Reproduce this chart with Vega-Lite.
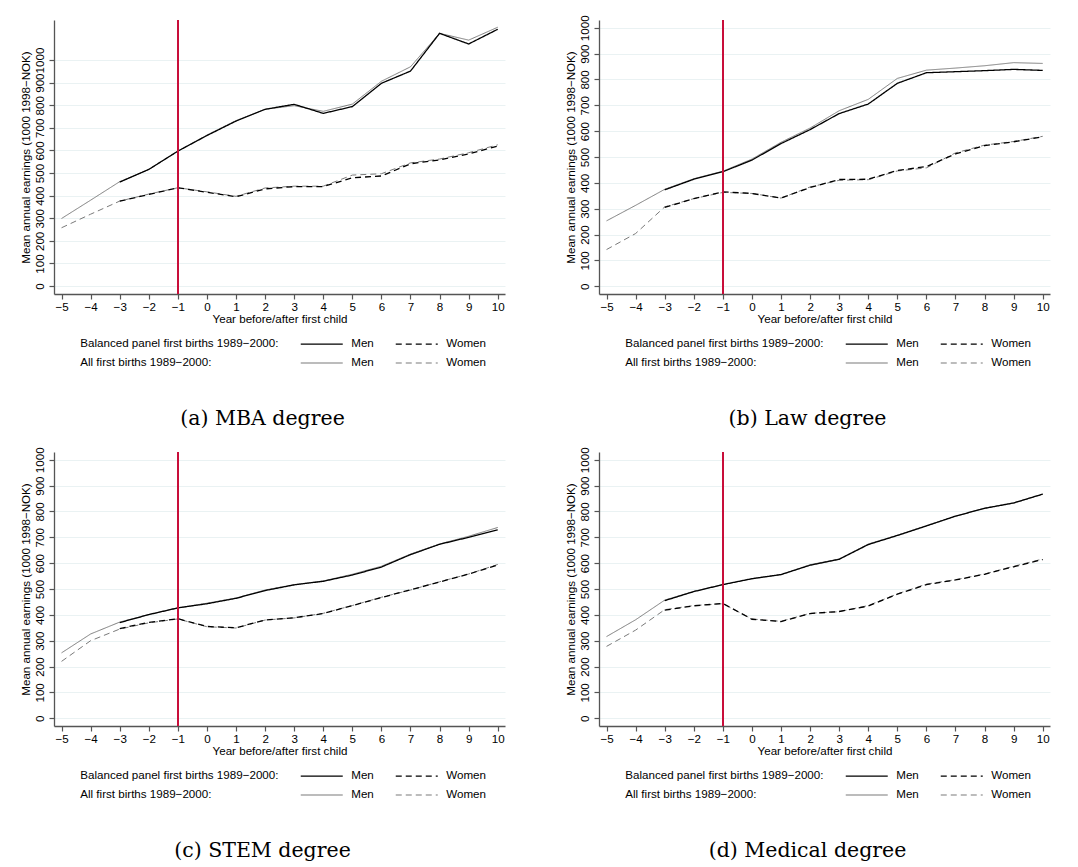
{
  "$schema": "https://vega.github.io/schema/vega-lite/v6.json",
  "padding": {"left": 19, "top": 14, "right": 5, "bottom": 5},
  "background": "white",
  "config": {
    "font": "Liberation Sans",
    "view": {"stroke": null},
    "axis": {"labelColor": "#000", "titleColor": "#000", "labelFontSize": 11.6, "titleFontSize": 11.6, "titleFontWeight": "normal", "domainColor": "#555", "tickColor": "#555", "domainWidth": 1.3, "tickWidth": 1.2, "tickSize": 5, "gridColor": "#eaf2f3", "gridWidth": 1, "labelOverlap": false, "labelFlush": false},
    "legend": {"labelFontSize": 11.6, "labelColor": "#000"},
    "title": {"font": "DejaVu Serif", "fontSize": 20.5, "fontWeight": "normal", "color": "#000", "orient": "bottom", "anchor": "middle", "frame": "bounds", "offset": 40}
  },
  "datasets": {
    "earn": [
      {"panel":"MBA","series":"All Men","year":-5,"value":299},
      {"panel":"MBA","series":"All Men","year":-4,"value":380},
      {"panel":"MBA","series":"All Men","year":-3,"value":462},
      {"panel":"MBA","series":"All Men","year":-2,"value":516},
      {"panel":"MBA","series":"All Men","year":-1,"value":597},
      {"panel":"MBA","series":"All Men","year":0,"value":668},
      {"panel":"MBA","series":"All Men","year":1,"value":732},
      {"panel":"MBA","series":"All Men","year":2,"value":782},
      {"panel":"MBA","series":"All Men","year":3,"value":798},
      {"panel":"MBA","series":"All Men","year":4,"value":773},
      {"panel":"MBA","series":"All Men","year":5,"value":805},
      {"panel":"MBA","series":"All Men","year":6,"value":906},
      {"panel":"MBA","series":"All Men","year":7,"value":970},
      {"panel":"MBA","series":"All Men","year":8,"value":1118},
      {"panel":"MBA","series":"All Men","year":9,"value":1088},
      {"panel":"MBA","series":"All Men","year":10,"value":1145},
      {"panel":"MBA","series":"Balanced Men","year":-3,"value":460},
      {"panel":"MBA","series":"Balanced Men","year":-2,"value":516},
      {"panel":"MBA","series":"Balanced Men","year":-1,"value":597},
      {"panel":"MBA","series":"Balanced Men","year":0,"value":666},
      {"panel":"MBA","series":"Balanced Men","year":1,"value":730},
      {"panel":"MBA","series":"Balanced Men","year":2,"value":782},
      {"panel":"MBA","series":"Balanced Men","year":3,"value":804},
      {"panel":"MBA","series":"Balanced Men","year":4,"value":764},
      {"panel":"MBA","series":"Balanced Men","year":5,"value":794},
      {"panel":"MBA","series":"Balanced Men","year":6,"value":897},
      {"panel":"MBA","series":"Balanced Men","year":7,"value":951},
      {"panel":"MBA","series":"Balanced Men","year":8,"value":1118},
      {"panel":"MBA","series":"Balanced Men","year":9,"value":1071},
      {"panel":"MBA","series":"Balanced Men","year":10,"value":1136},
      {"panel":"MBA","series":"All Women","year":-5,"value":258},
      {"panel":"MBA","series":"All Women","year":-4,"value":318},
      {"panel":"MBA","series":"All Women","year":-3,"value":376},
      {"panel":"MBA","series":"All Women","year":-2,"value":407},
      {"panel":"MBA","series":"All Women","year":-1,"value":435},
      {"panel":"MBA","series":"All Women","year":0,"value":417},
      {"panel":"MBA","series":"All Women","year":1,"value":397},
      {"panel":"MBA","series":"All Women","year":2,"value":434},
      {"panel":"MBA","series":"All Women","year":3,"value":442},
      {"panel":"MBA","series":"All Women","year":4,"value":442},
      {"panel":"MBA","series":"All Women","year":5,"value":491},
      {"panel":"MBA","series":"All Women","year":6,"value":497},
      {"panel":"MBA","series":"All Women","year":7,"value":545},
      {"panel":"MBA","series":"All Women","year":8,"value":562},
      {"panel":"MBA","series":"All Women","year":9,"value":590},
      {"panel":"MBA","series":"All Women","year":10,"value":625},
      {"panel":"MBA","series":"Balanced Women","year":-3,"value":376},
      {"panel":"MBA","series":"Balanced Women","year":-2,"value":405},
      {"panel":"MBA","series":"Balanced Women","year":-1,"value":435},
      {"panel":"MBA","series":"Balanced Women","year":0,"value":415},
      {"panel":"MBA","series":"Balanced Women","year":1,"value":395},
      {"panel":"MBA","series":"Balanced Women","year":2,"value":430},
      {"panel":"MBA","series":"Balanced Women","year":3,"value":440},
      {"panel":"MBA","series":"Balanced Women","year":4,"value":440},
      {"panel":"MBA","series":"Balanced Women","year":5,"value":479},
      {"panel":"MBA","series":"Balanced Women","year":6,"value":487},
      {"panel":"MBA","series":"Balanced Women","year":7,"value":541},
      {"panel":"MBA","series":"Balanced Women","year":8,"value":558},
      {"panel":"MBA","series":"Balanced Women","year":9,"value":585},
      {"panel":"MBA","series":"Balanced Women","year":10,"value":619},

      {"panel":"Law","series":"All Men","year":-5,"value":253},
      {"panel":"Law","series":"All Men","year":-4,"value":313},
      {"panel":"Law","series":"All Men","year":-3,"value":375},
      {"panel":"Law","series":"All Men","year":-2,"value":416},
      {"panel":"Law","series":"All Men","year":-1,"value":445},
      {"panel":"Law","series":"All Men","year":0,"value":492},
      {"panel":"Law","series":"All Men","year":1,"value":557},
      {"panel":"Law","series":"All Men","year":2,"value":612},
      {"panel":"Law","series":"All Men","year":3,"value":679},
      {"panel":"Law","series":"All Men","year":4,"value":723},
      {"panel":"Law","series":"All Men","year":5,"value":804},
      {"panel":"Law","series":"All Men","year":6,"value":836},
      {"panel":"Law","series":"All Men","year":7,"value":844},
      {"panel":"Law","series":"All Men","year":8,"value":853},
      {"panel":"Law","series":"All Men","year":9,"value":865},
      {"panel":"Law","series":"All Men","year":10,"value":862},
      {"panel":"Law","series":"Balanced Men","year":-3,"value":373},
      {"panel":"Law","series":"Balanced Men","year":-2,"value":414},
      {"panel":"Law","series":"Balanced Men","year":-1,"value":443},
      {"panel":"Law","series":"Balanced Men","year":0,"value":488},
      {"panel":"Law","series":"Balanced Men","year":1,"value":552},
      {"panel":"Law","series":"Balanced Men","year":2,"value":606},
      {"panel":"Law","series":"Balanced Men","year":3,"value":668},
      {"panel":"Law","series":"Balanced Men","year":4,"value":705},
      {"panel":"Law","series":"Balanced Men","year":5,"value":785},
      {"panel":"Law","series":"Balanced Men","year":6,"value":826},
      {"panel":"Law","series":"Balanced Men","year":7,"value":830},
      {"panel":"Law","series":"Balanced Men","year":8,"value":834},
      {"panel":"Law","series":"Balanced Men","year":9,"value":839},
      {"panel":"Law","series":"Balanced Men","year":10,"value":835},
      {"panel":"Law","series":"All Women","year":-5,"value":142},
      {"panel":"Law","series":"All Women","year":-4,"value":204},
      {"panel":"Law","series":"All Women","year":-3,"value":307},
      {"panel":"Law","series":"All Women","year":-2,"value":339},
      {"panel":"Law","series":"All Women","year":-1,"value":363},
      {"panel":"Law","series":"All Women","year":0,"value":359},
      {"panel":"Law","series":"All Women","year":1,"value":341},
      {"panel":"Law","series":"All Women","year":2,"value":384},
      {"panel":"Law","series":"All Women","year":3,"value":410},
      {"panel":"Law","series":"All Women","year":4,"value":412},
      {"panel":"Law","series":"All Women","year":5,"value":446},
      {"panel":"Law","series":"All Women","year":6,"value":458},
      {"panel":"Law","series":"All Women","year":7,"value":516},
      {"panel":"Law","series":"All Women","year":8,"value":546},
      {"panel":"Law","series":"All Women","year":9,"value":560},
      {"panel":"Law","series":"All Women","year":10,"value":580},
      {"panel":"Law","series":"Balanced Women","year":-3,"value":305},
      {"panel":"Law","series":"Balanced Women","year":-2,"value":339},
      {"panel":"Law","series":"Balanced Women","year":-1,"value":365},
      {"panel":"Law","series":"Balanced Women","year":0,"value":359},
      {"panel":"Law","series":"Balanced Women","year":1,"value":341},
      {"panel":"Law","series":"Balanced Women","year":2,"value":382},
      {"panel":"Law","series":"Balanced Women","year":3,"value":413},
      {"panel":"Law","series":"Balanced Women","year":4,"value":414},
      {"panel":"Law","series":"Balanced Women","year":5,"value":448},
      {"panel":"Law","series":"Balanced Women","year":6,"value":463},
      {"panel":"Law","series":"Balanced Women","year":7,"value":512},
      {"panel":"Law","series":"Balanced Women","year":8,"value":544},
      {"panel":"Law","series":"Balanced Women","year":9,"value":559},
      {"panel":"Law","series":"Balanced Women","year":10,"value":578},

      {"panel":"STEM","series":"All Men","year":-5,"value":253},
      {"panel":"STEM","series":"All Men","year":-4,"value":326},
      {"panel":"STEM","series":"All Men","year":-3,"value":372},
      {"panel":"STEM","series":"All Men","year":-2,"value":401},
      {"panel":"STEM","series":"All Men","year":-1,"value":427},
      {"panel":"STEM","series":"All Men","year":0,"value":445},
      {"panel":"STEM","series":"All Men","year":1,"value":465},
      {"panel":"STEM","series":"All Men","year":2,"value":496},
      {"panel":"STEM","series":"All Men","year":3,"value":517},
      {"panel":"STEM","series":"All Men","year":4,"value":531},
      {"panel":"STEM","series":"All Men","year":5,"value":557},
      {"panel":"STEM","series":"All Men","year":6,"value":588},
      {"panel":"STEM","series":"All Men","year":7,"value":635},
      {"panel":"STEM","series":"All Men","year":8,"value":674},
      {"panel":"STEM","series":"All Men","year":9,"value":704},
      {"panel":"STEM","series":"All Men","year":10,"value":738},
      {"panel":"STEM","series":"Balanced Men","year":-3,"value":370},
      {"panel":"STEM","series":"Balanced Men","year":-2,"value":401},
      {"panel":"STEM","series":"Balanced Men","year":-1,"value":427},
      {"panel":"STEM","series":"Balanced Men","year":0,"value":443},
      {"panel":"STEM","series":"Balanced Men","year":1,"value":464},
      {"panel":"STEM","series":"Balanced Men","year":2,"value":494},
      {"panel":"STEM","series":"Balanced Men","year":3,"value":516},
      {"panel":"STEM","series":"Balanced Men","year":4,"value":530},
      {"panel":"STEM","series":"Balanced Men","year":5,"value":554},
      {"panel":"STEM","series":"Balanced Men","year":6,"value":585},
      {"panel":"STEM","series":"Balanced Men","year":7,"value":633},
      {"panel":"STEM","series":"Balanced Men","year":8,"value":673},
      {"panel":"STEM","series":"Balanced Men","year":9,"value":700},
      {"panel":"STEM","series":"Balanced Men","year":10,"value":729},
      {"panel":"STEM","series":"All Women","year":-5,"value":220},
      {"panel":"STEM","series":"All Women","year":-4,"value":300},
      {"panel":"STEM","series":"All Women","year":-3,"value":345},
      {"panel":"STEM","series":"All Women","year":-2,"value":369},
      {"panel":"STEM","series":"All Women","year":-1,"value":384},
      {"panel":"STEM","series":"All Women","year":0,"value":354},
      {"panel":"STEM","series":"All Women","year":1,"value":349},
      {"panel":"STEM","series":"All Women","year":2,"value":380},
      {"panel":"STEM","series":"All Women","year":3,"value":388},
      {"panel":"STEM","series":"All Women","year":4,"value":406},
      {"panel":"STEM","series":"All Women","year":5,"value":436},
      {"panel":"STEM","series":"All Women","year":6,"value":468},
      {"panel":"STEM","series":"All Women","year":7,"value":496},
      {"panel":"STEM","series":"All Women","year":8,"value":528},
      {"panel":"STEM","series":"All Women","year":9,"value":558},
      {"panel":"STEM","series":"All Women","year":10,"value":595},
      {"panel":"STEM","series":"Balanced Women","year":-3,"value":347},
      {"panel":"STEM","series":"Balanced Women","year":-2,"value":371},
      {"panel":"STEM","series":"Balanced Women","year":-1,"value":385},
      {"panel":"STEM","series":"Balanced Women","year":0,"value":355},
      {"panel":"STEM","series":"Balanced Women","year":1,"value":350},
      {"panel":"STEM","series":"Balanced Women","year":2,"value":380},
      {"panel":"STEM","series":"Balanced Women","year":3,"value":389},
      {"panel":"STEM","series":"Balanced Women","year":4,"value":405},
      {"panel":"STEM","series":"Balanced Women","year":5,"value":436},
      {"panel":"STEM","series":"Balanced Women","year":6,"value":467},
      {"panel":"STEM","series":"Balanced Women","year":7,"value":497},
      {"panel":"STEM","series":"Balanced Women","year":8,"value":527},
      {"panel":"STEM","series":"Balanced Women","year":9,"value":558},
      {"panel":"STEM","series":"Balanced Women","year":10,"value":593},

      {"panel":"Medical","series":"All Men","year":-5,"value":316},
      {"panel":"Medical","series":"All Men","year":-4,"value":381},
      {"panel":"Medical","series":"All Men","year":-3,"value":457},
      {"panel":"Medical","series":"All Men","year":-2,"value":491},
      {"panel":"Medical","series":"All Men","year":-1,"value":517},
      {"panel":"Medical","series":"All Men","year":0,"value":539},
      {"panel":"Medical","series":"All Men","year":1,"value":555},
      {"panel":"Medical","series":"All Men","year":2,"value":594},
      {"panel":"Medical","series":"All Men","year":3,"value":616},
      {"panel":"Medical","series":"All Men","year":4,"value":674},
      {"panel":"Medical","series":"All Men","year":5,"value":708},
      {"panel":"Medical","series":"All Men","year":6,"value":745},
      {"panel":"Medical","series":"All Men","year":7,"value":781},
      {"panel":"Medical","series":"All Men","year":8,"value":813},
      {"panel":"Medical","series":"All Men","year":9,"value":832},
      {"panel":"Medical","series":"All Men","year":10,"value":867},
      {"panel":"Medical","series":"Balanced Men","year":-3,"value":455},
      {"panel":"Medical","series":"Balanced Men","year":-2,"value":490},
      {"panel":"Medical","series":"Balanced Men","year":-1,"value":517},
      {"panel":"Medical","series":"Balanced Men","year":0,"value":540},
      {"panel":"Medical","series":"Balanced Men","year":1,"value":556},
      {"panel":"Medical","series":"Balanced Men","year":2,"value":592},
      {"panel":"Medical","series":"Balanced Men","year":3,"value":615},
      {"panel":"Medical","series":"Balanced Men","year":4,"value":672},
      {"panel":"Medical","series":"Balanced Men","year":5,"value":707},
      {"panel":"Medical","series":"Balanced Men","year":6,"value":744},
      {"panel":"Medical","series":"Balanced Men","year":7,"value":782},
      {"panel":"Medical","series":"Balanced Men","year":8,"value":812},
      {"panel":"Medical","series":"Balanced Men","year":9,"value":833},
      {"panel":"Medical","series":"Balanced Men","year":10,"value":867},
      {"panel":"Medical","series":"All Women","year":-5,"value":278},
      {"panel":"Medical","series":"All Women","year":-4,"value":341},
      {"panel":"Medical","series":"All Women","year":-3,"value":420},
      {"panel":"Medical","series":"All Women","year":-2,"value":436},
      {"panel":"Medical","series":"All Women","year":-1,"value":443},
      {"panel":"Medical","series":"All Women","year":0,"value":384},
      {"panel":"Medical","series":"All Women","year":1,"value":375},
      {"panel":"Medical","series":"All Women","year":2,"value":406},
      {"panel":"Medical","series":"All Women","year":3,"value":412},
      {"panel":"Medical","series":"All Women","year":4,"value":436},
      {"panel":"Medical","series":"All Women","year":5,"value":481},
      {"panel":"Medical","series":"All Women","year":6,"value":519},
      {"panel":"Medical","series":"All Women","year":7,"value":536},
      {"panel":"Medical","series":"All Women","year":8,"value":558},
      {"panel":"Medical","series":"All Women","year":9,"value":588},
      {"panel":"Medical","series":"All Women","year":10,"value":616},
      {"panel":"Medical","series":"Balanced Women","year":-3,"value":418},
      {"panel":"Medical","series":"Balanced Women","year":-2,"value":435},
      {"panel":"Medical","series":"Balanced Women","year":-1,"value":444},
      {"panel":"Medical","series":"Balanced Women","year":0,"value":383},
      {"panel":"Medical","series":"Balanced Women","year":1,"value":374},
      {"panel":"Medical","series":"Balanced Women","year":2,"value":405},
      {"panel":"Medical","series":"Balanced Women","year":3,"value":413},
      {"panel":"Medical","series":"Balanced Women","year":4,"value":434},
      {"panel":"Medical","series":"Balanced Women","year":5,"value":480},
      {"panel":"Medical","series":"Balanced Women","year":6,"value":517},
      {"panel":"Medical","series":"Balanced Women","year":7,"value":535},
      {"panel":"Medical","series":"Balanced Women","year":8,"value":557},
      {"panel":"Medical","series":"Balanced Women","year":9,"value":586},
      {"panel":"Medical","series":"Balanced Women","year":10,"value":614}
    ]
  },
  "columns": 2,
  "bounds": "flush",
  "spacing": {"row": 158, "column": 94},
  "resolve": {"scale": {"color": "independent", "strokeDash": "independent"}, "legend": {"color": "independent", "strokeDash": "independent"}},
  "concat": [
    {
      "title": {"text": "(a) MBA degree"},
      "width": 451, "height": 274,
      "data": {"name": "earn"},
      "transform": [{"filter": "datum.panel === 'MBA'"}],
      "layer": [
        {"transform": [{"filter": "indexof(datum.series, 'All') === 0"}],
         "mark": {"type": "line", "strokeWidth": 1},
         "encoding": {
           "x": {"field": "year", "type": "quantitative", "scale": {"domain": [-5.26, 10.25], "nice": false, "zero": false}, "axis": {"values": [-5,-4,-3,-2,-1,0,1,2,3,4,5,6,7,8,9,10], "format": "d", "grid": false, "title": "Year before/after first child", "labelPadding": 2, "titlePadding": 1}},
           "y": {"field": "value", "type": "quantitative", "scale": {"domain": [-35, 1177], "nice": false, "zero": false}, "axis": {"values": [0,100,200,300,400,500,600,700,800,900,1000], "format": "d", "labelAngle": -90, "labelAlign": "center", "labelBaseline": "bottom", "labelPadding": 4, "title": "Mean annual earnings (1000 1998\u2212NOK)", "titlePadding": 3}},
           "color": {"field": "series", "type": "nominal", "scale": {"domain": ["Balanced panel first births 1989\u22122000:", "Balanced Men", "Balanced Women", "All first births 1989\u22122000:", "All Men", "All Women"], "range": ["rgba(0,0,0,0)", "#000000", "#000000", "rgba(0,0,0,0)", "#7a7a7a", "#7a7a7a"]}, "legend": {"title": null, "orient": "none", "legendX": -25, "legendY": 318, "direction": "horizontal", "columns": 3, "gridAlign": "each", "symbolType": "M0,0H8", "symbolSize": 110.25, "symbolOffset": -5.25, "symbolStrokeWidth": 1.2, "labelOffset": 44.5, "columnPadding": 19, "rowPadding": 7, "labelLimit": 400, "labelExpr": "length(datum.label) > 20 ? datum.label : (indexof(datum.label, 'Women') >= 0 ? 'Women' : 'Men')"}},
           "strokeDash": {"field": "series", "type": "nominal", "scale": {"domain": ["Balanced panel first births 1989\u22122000:", "Balanced Men", "Balanced Women", "All first births 1989\u22122000:", "All Men", "All Women"], "range": [[1,0],[1,0],[6,4],[1,0],[1,0],[6,4]]}, "legend": {"title": null, "orient": "none", "legendX": -25, "legendY": 318, "direction": "horizontal", "columns": 3, "gridAlign": "each", "symbolType": "M0,0H8", "symbolSize": 110.25, "symbolOffset": -5.25, "symbolStrokeWidth": 1.2, "labelOffset": 44.5, "columnPadding": 19, "rowPadding": 7, "labelLimit": 400, "labelExpr": "length(datum.label) > 20 ? datum.label : (indexof(datum.label, 'Women') >= 0 ? 'Women' : 'Men')"}}
         }},
        {"transform": [{"filter": "indexof(datum.series, 'Balanced') === 0"}],
         "mark": {"type": "line", "strokeWidth": 1.3},
         "encoding": {
           "x": {"field": "year", "type": "quantitative", "scale": {"domain": [-5.26, 10.25], "nice": false, "zero": false}, "axis": {"values": [-5,-4,-3,-2,-1,0,1,2,3,4,5,6,7,8,9,10], "format": "d", "grid": false, "title": "Year before/after first child", "labelPadding": 2, "titlePadding": 1}},
           "y": {"field": "value", "type": "quantitative", "scale": {"domain": [-35, 1177], "nice": false, "zero": false}, "axis": {"values": [0,100,200,300,400,500,600,700,800,900,1000], "format": "d", "labelAngle": -90, "labelAlign": "center", "labelBaseline": "bottom", "labelPadding": 4, "title": "Mean annual earnings (1000 1998\u2212NOK)", "titlePadding": 3}},
           "color": {"field": "series", "type": "nominal"},
           "strokeDash": {"field": "series", "type": "nominal"}
         }},
        {"mark": {"type": "rule", "color": "#c8103a", "strokeWidth": 1},
         "encoding": {"x": {"datum": -1, "type": "quantitative", "scale": {"domain": [-5.26, 10.25], "nice": false, "zero": false}, "axis": {"values": [-5,-4,-3,-2,-1,0,1,2,3,4,5,6,7,8,9,10], "format": "d", "grid": false, "title": "Year before/after first child", "labelPadding": 2, "titlePadding": 1}}}}
      ]
    },
    {
      "title": {"text": "(b) Law degree"},
      "width": 451, "height": 274,
      "data": {"name": "earn"},
      "transform": [{"filter": "datum.panel === 'Law'"}],
      "layer": [
        {"transform": [{"filter": "indexof(datum.series, 'All') === 0"}],
         "mark": {"type": "line", "strokeWidth": 1},
         "encoding": {
           "x": {"field": "year", "type": "quantitative", "scale": {"domain": [-5.26, 10.25], "nice": false, "zero": false}, "axis": {"values": [-5,-4,-3,-2,-1,0,1,2,3,4,5,6,7,8,9,10], "format": "d", "grid": false, "title": "Year before/after first child", "labelPadding": 2, "titlePadding": 1}},
           "y": {"field": "value", "type": "quantitative", "scale": {"domain": [-30, 1030], "nice": false, "zero": false}, "axis": {"values": [0,100,200,300,400,500,600,700,800,900,1000], "format": "d", "labelAngle": -90, "labelAlign": "center", "labelBaseline": "bottom", "labelPadding": 4, "title": "Mean annual earnings (1000 1998\u2212NOK)", "titlePadding": 3}},
           "color": {"field": "series", "type": "nominal", "scale": {"domain": ["Balanced panel first births 1989\u22122000:", "Balanced Men", "Balanced Women", "All first births 1989\u22122000:", "All Men", "All Women"], "range": ["rgba(0,0,0,0)", "#000000", "#000000", "rgba(0,0,0,0)", "#7a7a7a", "#7a7a7a"]}, "legend": {"title": null, "orient": "none", "legendX": -25, "legendY": 318, "direction": "horizontal", "columns": 3, "gridAlign": "each", "symbolType": "M0,0H8", "symbolSize": 110.25, "symbolOffset": -5.25, "symbolStrokeWidth": 1.2, "labelOffset": 44.5, "columnPadding": 19, "rowPadding": 7, "labelLimit": 400, "labelExpr": "length(datum.label) > 20 ? datum.label : (indexof(datum.label, 'Women') >= 0 ? 'Women' : 'Men')"}},
           "strokeDash": {"field": "series", "type": "nominal", "scale": {"domain": ["Balanced panel first births 1989\u22122000:", "Balanced Men", "Balanced Women", "All first births 1989\u22122000:", "All Men", "All Women"], "range": [[1,0],[1,0],[6,4],[1,0],[1,0],[6,4]]}, "legend": {"title": null, "orient": "none", "legendX": -25, "legendY": 318, "direction": "horizontal", "columns": 3, "gridAlign": "each", "symbolType": "M0,0H8", "symbolSize": 110.25, "symbolOffset": -5.25, "symbolStrokeWidth": 1.2, "labelOffset": 44.5, "columnPadding": 19, "rowPadding": 7, "labelLimit": 400, "labelExpr": "length(datum.label) > 20 ? datum.label : (indexof(datum.label, 'Women') >= 0 ? 'Women' : 'Men')"}}
         }},
        {"transform": [{"filter": "indexof(datum.series, 'Balanced') === 0"}],
         "mark": {"type": "line", "strokeWidth": 1.3},
         "encoding": {
           "x": {"field": "year", "type": "quantitative", "scale": {"domain": [-5.26, 10.25], "nice": false, "zero": false}, "axis": {"values": [-5,-4,-3,-2,-1,0,1,2,3,4,5,6,7,8,9,10], "format": "d", "grid": false, "title": "Year before/after first child", "labelPadding": 2, "titlePadding": 1}},
           "y": {"field": "value", "type": "quantitative", "scale": {"domain": [-30, 1030], "nice": false, "zero": false}, "axis": {"values": [0,100,200,300,400,500,600,700,800,900,1000], "format": "d", "labelAngle": -90, "labelAlign": "center", "labelBaseline": "bottom", "labelPadding": 4, "title": "Mean annual earnings (1000 1998\u2212NOK)", "titlePadding": 3}},
           "color": {"field": "series", "type": "nominal"},
           "strokeDash": {"field": "series", "type": "nominal"}
         }},
        {"mark": {"type": "rule", "color": "#c8103a", "strokeWidth": 1},
         "encoding": {"x": {"datum": -1, "type": "quantitative", "scale": {"domain": [-5.26, 10.25], "nice": false, "zero": false}, "axis": {"values": [-5,-4,-3,-2,-1,0,1,2,3,4,5,6,7,8,9,10], "format": "d", "grid": false, "title": "Year before/after first child", "labelPadding": 2, "titlePadding": 1}}}}
      ]
    },
    {
      "title": {"text": "(c) STEM degree"},
      "width": 451, "height": 274,
      "data": {"name": "earn"},
      "transform": [{"filter": "datum.panel === 'STEM'"}],
      "layer": [
        {"transform": [{"filter": "indexof(datum.series, 'All') === 0"}],
         "mark": {"type": "line", "strokeWidth": 1},
         "encoding": {
           "x": {"field": "year", "type": "quantitative", "scale": {"domain": [-5.26, 10.25], "nice": false, "zero": false}, "axis": {"values": [-5,-4,-3,-2,-1,0,1,2,3,4,5,6,7,8,9,10], "format": "d", "grid": false, "title": "Year before/after first child", "labelPadding": 2, "titlePadding": 1}},
           "y": {"field": "value", "type": "quantitative", "scale": {"domain": [-30, 1030], "nice": false, "zero": false}, "axis": {"values": [0,100,200,300,400,500,600,700,800,900,1000], "format": "d", "labelAngle": -90, "labelAlign": "center", "labelBaseline": "bottom", "labelPadding": 4, "title": "Mean annual earnings (1000 1998\u2212NOK)", "titlePadding": 3}},
           "color": {"field": "series", "type": "nominal", "scale": {"domain": ["Balanced panel first births 1989\u22122000:", "Balanced Men", "Balanced Women", "All first births 1989\u22122000:", "All Men", "All Women"], "range": ["rgba(0,0,0,0)", "#000000", "#000000", "rgba(0,0,0,0)", "#7a7a7a", "#7a7a7a"]}, "legend": {"title": null, "orient": "none", "legendX": -25, "legendY": 318, "direction": "horizontal", "columns": 3, "gridAlign": "each", "symbolType": "M0,0H8", "symbolSize": 110.25, "symbolOffset": -5.25, "symbolStrokeWidth": 1.2, "labelOffset": 44.5, "columnPadding": 19, "rowPadding": 7, "labelLimit": 400, "labelExpr": "length(datum.label) > 20 ? datum.label : (indexof(datum.label, 'Women') >= 0 ? 'Women' : 'Men')"}},
           "strokeDash": {"field": "series", "type": "nominal", "scale": {"domain": ["Balanced panel first births 1989\u22122000:", "Balanced Men", "Balanced Women", "All first births 1989\u22122000:", "All Men", "All Women"], "range": [[1,0],[1,0],[6,4],[1,0],[1,0],[6,4]]}, "legend": {"title": null, "orient": "none", "legendX": -25, "legendY": 318, "direction": "horizontal", "columns": 3, "gridAlign": "each", "symbolType": "M0,0H8", "symbolSize": 110.25, "symbolOffset": -5.25, "symbolStrokeWidth": 1.2, "labelOffset": 44.5, "columnPadding": 19, "rowPadding": 7, "labelLimit": 400, "labelExpr": "length(datum.label) > 20 ? datum.label : (indexof(datum.label, 'Women') >= 0 ? 'Women' : 'Men')"}}
         }},
        {"transform": [{"filter": "indexof(datum.series, 'Balanced') === 0"}],
         "mark": {"type": "line", "strokeWidth": 1.3},
         "encoding": {
           "x": {"field": "year", "type": "quantitative", "scale": {"domain": [-5.26, 10.25], "nice": false, "zero": false}, "axis": {"values": [-5,-4,-3,-2,-1,0,1,2,3,4,5,6,7,8,9,10], "format": "d", "grid": false, "title": "Year before/after first child", "labelPadding": 2, "titlePadding": 1}},
           "y": {"field": "value", "type": "quantitative", "scale": {"domain": [-30, 1030], "nice": false, "zero": false}, "axis": {"values": [0,100,200,300,400,500,600,700,800,900,1000], "format": "d", "labelAngle": -90, "labelAlign": "center", "labelBaseline": "bottom", "labelPadding": 4, "title": "Mean annual earnings (1000 1998\u2212NOK)", "titlePadding": 3}},
           "color": {"field": "series", "type": "nominal"},
           "strokeDash": {"field": "series", "type": "nominal"}
         }},
        {"mark": {"type": "rule", "color": "#c8103a", "strokeWidth": 1},
         "encoding": {"x": {"datum": -1, "type": "quantitative", "scale": {"domain": [-5.26, 10.25], "nice": false, "zero": false}, "axis": {"values": [-5,-4,-3,-2,-1,0,1,2,3,4,5,6,7,8,9,10], "format": "d", "grid": false, "title": "Year before/after first child", "labelPadding": 2, "titlePadding": 1}}}}
      ]
    },
    {
      "title": {"text": "(d) Medical degree"},
      "width": 451, "height": 274,
      "data": {"name": "earn"},
      "transform": [{"filter": "datum.panel === 'Medical'"}],
      "layer": [
        {"transform": [{"filter": "indexof(datum.series, 'All') === 0"}],
         "mark": {"type": "line", "strokeWidth": 1},
         "encoding": {
           "x": {"field": "year", "type": "quantitative", "scale": {"domain": [-5.26, 10.25], "nice": false, "zero": false}, "axis": {"values": [-5,-4,-3,-2,-1,0,1,2,3,4,5,6,7,8,9,10], "format": "d", "grid": false, "title": "Year before/after first child", "labelPadding": 2, "titlePadding": 1}},
           "y": {"field": "value", "type": "quantitative", "scale": {"domain": [-30, 1030], "nice": false, "zero": false}, "axis": {"values": [0,100,200,300,400,500,600,700,800,900,1000], "format": "d", "labelAngle": -90, "labelAlign": "center", "labelBaseline": "bottom", "labelPadding": 4, "title": "Mean annual earnings (1000 1998\u2212NOK)", "titlePadding": 3}},
           "color": {"field": "series", "type": "nominal", "scale": {"domain": ["Balanced panel first births 1989\u22122000:", "Balanced Men", "Balanced Women", "All first births 1989\u22122000:", "All Men", "All Women"], "range": ["rgba(0,0,0,0)", "#000000", "#000000", "rgba(0,0,0,0)", "#7a7a7a", "#7a7a7a"]}, "legend": {"title": null, "orient": "none", "legendX": -25, "legendY": 318, "direction": "horizontal", "columns": 3, "gridAlign": "each", "symbolType": "M0,0H8", "symbolSize": 110.25, "symbolOffset": -5.25, "symbolStrokeWidth": 1.2, "labelOffset": 44.5, "columnPadding": 19, "rowPadding": 7, "labelLimit": 400, "labelExpr": "length(datum.label) > 20 ? datum.label : (indexof(datum.label, 'Women') >= 0 ? 'Women' : 'Men')"}},
           "strokeDash": {"field": "series", "type": "nominal", "scale": {"domain": ["Balanced panel first births 1989\u22122000:", "Balanced Men", "Balanced Women", "All first births 1989\u22122000:", "All Men", "All Women"], "range": [[1,0],[1,0],[6,4],[1,0],[1,0],[6,4]]}, "legend": {"title": null, "orient": "none", "legendX": -25, "legendY": 318, "direction": "horizontal", "columns": 3, "gridAlign": "each", "symbolType": "M0,0H8", "symbolSize": 110.25, "symbolOffset": -5.25, "symbolStrokeWidth": 1.2, "labelOffset": 44.5, "columnPadding": 19, "rowPadding": 7, "labelLimit": 400, "labelExpr": "length(datum.label) > 20 ? datum.label : (indexof(datum.label, 'Women') >= 0 ? 'Women' : 'Men')"}}
         }},
        {"transform": [{"filter": "indexof(datum.series, 'Balanced') === 0"}],
         "mark": {"type": "line", "strokeWidth": 1.3},
         "encoding": {
           "x": {"field": "year", "type": "quantitative", "scale": {"domain": [-5.26, 10.25], "nice": false, "zero": false}, "axis": {"values": [-5,-4,-3,-2,-1,0,1,2,3,4,5,6,7,8,9,10], "format": "d", "grid": false, "title": "Year before/after first child", "labelPadding": 2, "titlePadding": 1}},
           "y": {"field": "value", "type": "quantitative", "scale": {"domain": [-30, 1030], "nice": false, "zero": false}, "axis": {"values": [0,100,200,300,400,500,600,700,800,900,1000], "format": "d", "labelAngle": -90, "labelAlign": "center", "labelBaseline": "bottom", "labelPadding": 4, "title": "Mean annual earnings (1000 1998\u2212NOK)", "titlePadding": 3}},
           "color": {"field": "series", "type": "nominal"},
           "strokeDash": {"field": "series", "type": "nominal"}
         }},
        {"mark": {"type": "rule", "color": "#c8103a", "strokeWidth": 1},
         "encoding": {"x": {"datum": -1, "type": "quantitative", "scale": {"domain": [-5.26, 10.25], "nice": false, "zero": false}, "axis": {"values": [-5,-4,-3,-2,-1,0,1,2,3,4,5,6,7,8,9,10], "format": "d", "grid": false, "title": "Year before/after first child", "labelPadding": 2, "titlePadding": 1}}}}
      ]
    }
  ]
}
